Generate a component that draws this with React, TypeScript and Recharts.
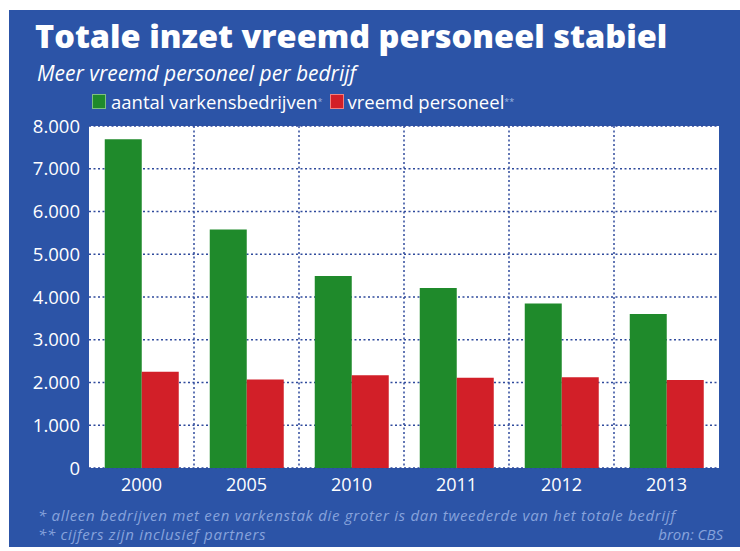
import React from "react";
import { BarChart, Bar, XAxis, YAxis, CartesianGrid, Legend } from "recharts";

const years = ["2000", "2005", "2010", "2011", "2012", "2013"];
const bedrijven = [7690, 5580, 4490, 4210, 3850, 3600];
const personeel = [2250, 2070, 2170, 2110, 2120, 2060];
const yTicks = [0, 1000, 2000, 3000, 4000, 5000, 6000, 7000, 8000];

const data = years.map((y, i) => ({ year: y, bedrijven: bedrijven[i], personeel: personeel[i] }));

const BLUE = "#2c54a7";
const GREEN = "#1f8a2b";
const RED = "#d21f28";
const GRID = "#2f4a9c";
const FONT = "'Open Sans', 'DejaVu Sans', sans-serif";

const fmt = (v: number) => (v === 0 ? "0" : `${Math.floor(v / 1000)}.${String(v % 1000).padStart(3, "0")}`);

const LegendContent = () => (
  <div style={{ display: "flex", alignItems: "center", fontFamily: FONT, fontSize: 18.5, color: "#fff", whiteSpace: "nowrap", height: 21 }}>
    <span style={{ width: 12, height: 13, background: GREEN, border: "1px solid #7fc07f", display: "inline-block", marginRight: 5 }} />
    <span>aantal varkensbedrijven</span>
    <sup style={{ fontSize: 9, color: "#9fb4e0", marginRight: 8 }}>*</sup>
    <span style={{ width: 12, height: 13, background: RED, border: "1px solid #f08080", display: "inline-block", marginRight: 3 }} />
    <span>vreemd personeel</span>
    <sup style={{ fontSize: 9, color: "#9fb4e0" }}>**</sup>
  </div>
);

export default function App() {
  return (
    <div style={{ position: "absolute", left: 0, top: 0, width: 740, height: 551, background: "#fff", overflow: "hidden" }}>
      <div style={{ position: "absolute", left: 9, top: 10, width: 731, height: 537, background: BLUE }} />
      <div style={{ position: "absolute", left: 35, top: 13, fontFamily: FONT, fontWeight: 800, fontSize: 32.5, color: "#fff", whiteSpace: "nowrap" }}>
        Totale inzet vreemd personeel stabiel
      </div>
      <div style={{ position: "absolute", left: 37, top: 59, fontFamily: FONT, fontStyle: "italic", fontSize: 21, color: "#fff", whiteSpace: "nowrap" }}>
        Meer vreemd personeel per bedrijf
      </div>
      <div style={{ position: "absolute", left: 0, top: 0 }}>
        <BarChart width={740} height={551} data={data} margin={{ top: 105, right: 21, bottom: 53, left: 0 }} barCategoryGap="15%" barGap={0}>
          <CartesianGrid
            fill="#fff"
            stroke={GRID}
            strokeWidth={1.5}
            strokeDasharray="2 2.5"
            verticalCoordinatesGenerator={({ offset }: any) =>
              years.slice(1).map((_, i) => offset.left + ((i + 1) * offset.width) / years.length)
            }
          />
          <XAxis dataKey="year" height={30} axisLine={false} tickLine={false} tickSize={0} tickMargin={10}
            tick={{ fill: "#fff", fontSize: 18, fontFamily: FONT }} />
          <YAxis width={89} domain={[0, 8000]} ticks={yTicks} axisLine={false} tickLine={false} tickSize={0} tickMargin={9}
            tickFormatter={fmt} tick={{ fill: "#fff", fontSize: 18.5, fontFamily: FONT }} />
          <Legend verticalAlign="top" height={21} content={<LegendContent />}
            wrapperStyle={{ position: "absolute", left: 92, top: 91, width: "auto" }} />
          <Bar dataKey="bedrijven" fill={GREEN} isAnimationActive={false} />
          <Bar dataKey="personeel" fill={RED} isAnimationActive={false} />
        </BarChart>
      </div>
      <div style={{ position: "absolute", left: 38, top: 506, fontFamily: FONT, fontStyle: "italic", fontSize: 15, letterSpacing: 0.7, color: "#87a3dc", whiteSpace: "nowrap", lineHeight: "19px" }}>
        <div>* alleen bedrijven met een varkenstak die groter is dan tweederde van het totale bedrijf</div>
        <div>** cijfers zijn inclusief partners</div>
      </div>
      <div style={{ position: "absolute", right: 17, top: 525, fontFamily: FONT, fontStyle: "italic", fontSize: 15, color: "#87a3dc", whiteSpace: "nowrap", lineHeight: "19px" }}>
        bron: CBS
      </div>
    </div>
  );
}
